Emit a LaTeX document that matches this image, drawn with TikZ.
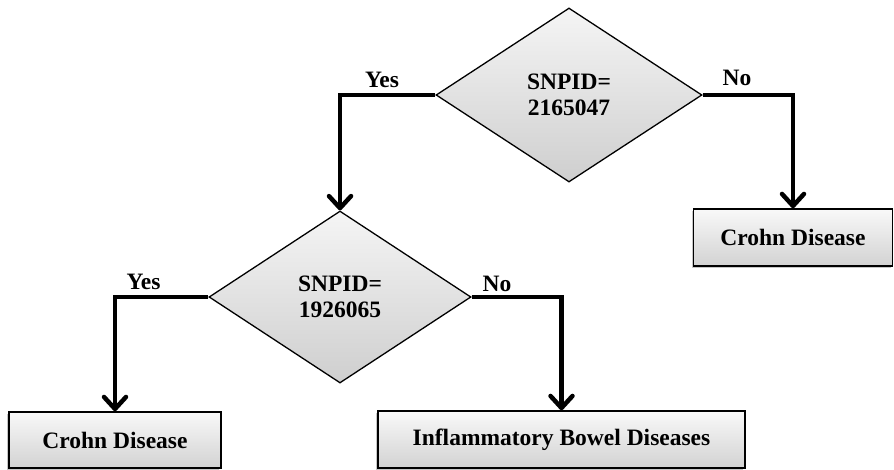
\documentclass[tikz,border=0pt]{standalone}
\usepackage{fontspec}
\setmainfont{Liberation Serif}
\usetikzlibrary{shapes.geometric,arrows.meta,shadows}
\tikzset{
  decision/.style={diamond, draw=black, line width=1.3pt, inner sep=0pt,
    top color=gray!8, bottom color=gray!38, align=center,
    font=\fontsize{23.5}{26}\selectfont\bfseries},
  outcome/.style={rectangle, draw=black, line width=1.6pt, inner sep=0pt,
    top color=gray!5, bottom color=gray!35,
    drop shadow={shadow xshift=-2pt, shadow yshift=-2pt, opacity=0.45},
    font=\fontsize{23.5}{26}\selectfont\bfseries},
  conn/.style={line width=4.5pt, -{Straight Barb[length=12pt,width=22pt,round]}},
  lbl/.style={anchor=base, inner sep=0pt, font=\fontsize{23.5}{26}\selectfont\bfseries}
}
\begin{document}
\begin{tikzpicture}[x=1pt,y=-1pt]
\useasboundingbox (0,0) rectangle (894,470);
\node[decision, minimum width=266pt, minimum height=174pt] (d1) at (569,95) {SNPID=\\2165047};
\node[decision, minimum width=262pt, minimum height=172pt] (d2) at (340,297) {SNPID=\\1926065};
\node[outcome, minimum width=199pt, minimum height=57pt] (c1) at (793,237.5) {Crohn Disease};
\node[outcome, minimum width=212pt, minimum height=56pt] (c2) at (115,440) {Crohn Disease};
\node[outcome, minimum width=367pt, minimum height=57pt] (ibd) at (561.5,439.5) {Inflammatory Bowel Diseases};
\draw[conn] (d1.west) -| (d2.north);
\draw[conn] (d1.east) -| (c1.north);
\draw[conn] (d2.west) -| (c2.north);
\draw[conn] (d2.east) -| (ibd.north);
\node[lbl] (y1) at (382,88) {Yes};
\node[lbl] (n1) at (737,86) {No};
\node[lbl] (y2) at (143.5,290) {Yes};
\node[lbl] (n2) at (497,291) {No};
\end{tikzpicture}
\end{document}
